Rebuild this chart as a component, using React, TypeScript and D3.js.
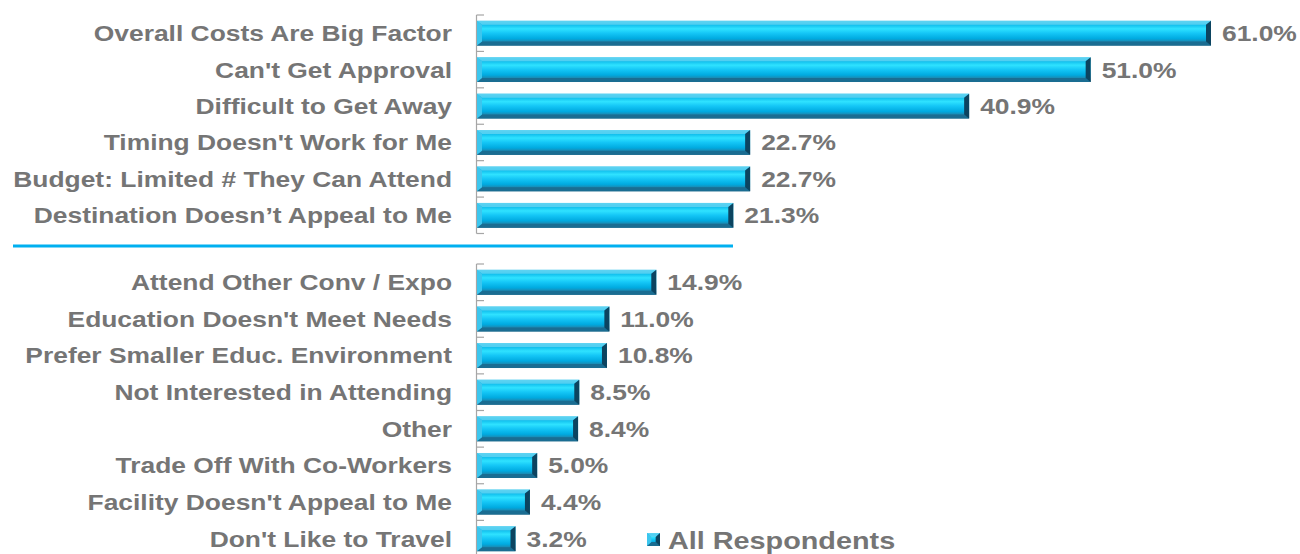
import React from "react";
import * as d3 from "d3";

const topCategories = [
  "Overall Costs Are Big Factor",
  "Can't Get Approval",
  "Difficult to Get Away",
  "Timing Doesn't Work for Me",
  "Budget: Limited # They Can Attend",
  "Destination Doesn\u2019t Appeal to Me",
];
const topValues = [61.0, 51.0, 40.9, 22.7, 22.7, 21.3];

const bottomCategories = [
  "Attend Other Conv / Expo",
  "Education Doesn't Meet Needs",
  "Prefer Smaller Educ. Environment",
  "Not Interested in Attending",
  "Other",
  "Trade Off With Co-Workers",
  "Facility Doesn't Appeal to Me",
  "Don't Like to Travel",
];
const bottomValues = [14.9, 11.0, 10.8, 8.5, 8.4, 5.0, 4.4, 3.2];

const seriesName = "All Respondents";

const W = 1300;
const H = 554;
const X0 = 477;
const TEXT = "#757575";
const FONT = "'Liberation Sans', Arial, sans-serif";
const SX = 1.2;

const x = d3.scaleLinear().domain([0, 61]).range([X0, 1211]);

function Bar({ x0, x1, y, h }: { x0: number; x1: number; y: number; h: number }) {
  const b = Math.min(5, (x1 - x0) / 3);
  const bv = 4;
  return (
    <g>
      <rect x={x0} y={y} width={x1 - x0} height={h} fill="url(#barGrad)" />
      <polygon points={`${x0},${y} ${x1},${y} ${x1 - b},${y + bv} ${x0 + b},${y + bv}`} fill="#5fd3f2" opacity={0.85} />
      <polygon points={`${x0},${y + h} ${x1},${y + h} ${x1 - b},${y + h - bv} ${x0 + b},${y + h - bv}`} fill="#1a6d92" />
      <polygon points={`${x0},${y} ${x0 + b},${y + bv} ${x0 + b},${y + h - bv} ${x0},${y + h}`} fill="#3cc6ee" />
      <polygon points={`${x1},${y} ${x1 - b},${y + bv} ${x1 - b},${y + h - bv} ${x1},${y + h}`} fill="#0c4460" />
    </g>
  );
}

function Label({ x, y, anchor, size, children }: { x: number; y: number; anchor: string; size: number; children: React.ReactNode }) {
  return (
    <text
      transform={`translate(${x},${y}) scale(${SX},1)`}
      dy="0.36em"
      textAnchor={anchor}
      fontFamily={FONT}
      fontWeight="bold"
      fontSize={size}
      fill={TEXT}
    >
      {children}
    </text>
  );
}

function Section({ cats, vals, y0, y1 }: { cats: string[]; vals: number[]; y0: number; y1: number }) {
  const y = d3.scaleBand<string>().domain(cats).range([y0, y1]).paddingInner(0.32).paddingOuter(0.16);
  const step = y.step();
  const fmt = d3.format(".1f");
  return (
    <g>
      <line x1={X0 - 0.5} x2={X0 - 0.5} y1={y0} y2={y1} stroke="#a6a6a6" strokeWidth={1.2} />
      {d3.range(cats.length + 1).map((i) => (
        <line key={i} x1={X0 - 0.5} x2={X0 + 7} y1={y0 + i * step} y2={y0 + i * step} stroke="#a6a6a6" strokeWidth={1.2} />
      ))}
      {cats.map((c, i) => {
        const by = y(c)!;
        const h = y.bandwidth();
        return (
          <g key={c}>
            <Bar x0={X0} x1={x(vals[i])} y={by} h={h} />
            <Label x={452} y={by + h / 2} anchor="end" size={22}>{c}</Label>
            <Label x={x(vals[i]) + 11} y={by + h / 2} anchor="start" size={22}>{fmt(vals[i])}%</Label>
          </g>
        );
      })}
    </g>
  );
}

export default function App() {
  return (
    <svg width={W} height={H} style={{ position: "absolute", left: 0, top: 0, background: "#fff" }}>
      <defs>
        <linearGradient id="barGrad" x1="0" y1="0" x2="0" y2="1">
          <stop offset="0%" stopColor="#58cff0" />
          <stop offset="12%" stopColor="#08b4e8" />
          <stop offset="32%" stopColor="#2fe2ff" />
          <stop offset="50%" stopColor="#14c6f6" />
          <stop offset="72%" stopColor="#00aae0" />
          <stop offset="84%" stopColor="#1b8ab2" />
          <stop offset="100%" stopColor="#12607f" />
        </linearGradient>
      </defs>
      <Section cats={topCategories} vals={topValues} y0={15} y1={233.5} />
      <line x1={13} x2={733} y1={246} y2={246} stroke="#00b0f0" strokeWidth={3} />
      <Section cats={bottomCategories} vals={bottomValues} y0={264} y1={557} />
      <g transform="translate(647,533)">
        <Bar x0={0} x1={13} y={0} h={13} />
        <Label x={21} y={7} anchor="start" size={24}>{seriesName}</Label>
      </g>
    </svg>
  );
}
